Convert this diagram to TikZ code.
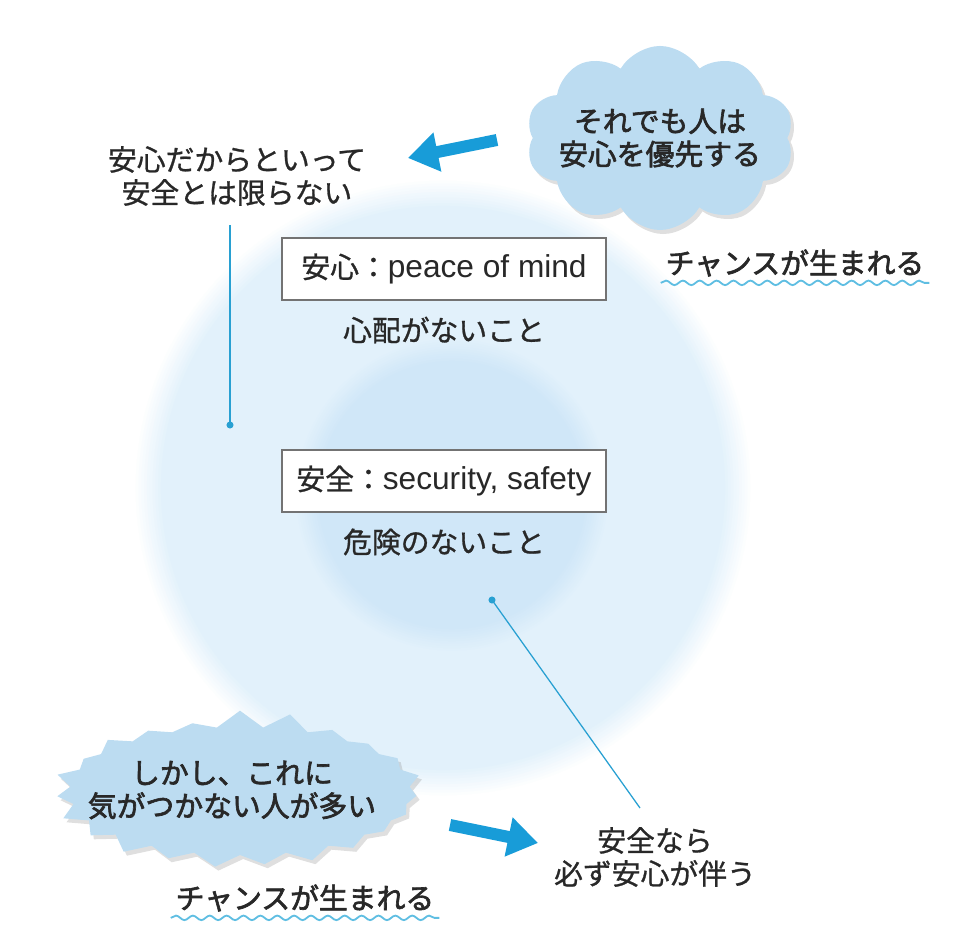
\documentclass[tikz,border=0pt]{standalone}
\usepackage{fontspec}
\setmainfont{Noto Sans CJK JP}[FakeBold=0.9]
\newfontfamily\heavyfont{Noto Sans CJK JP}[FakeBold=2.2]
\newfontfamily\latinfont{Liberation Sans}
\usetikzlibrary{arrows.meta, shapes.symbols, shadows, decorations.pathmorphing}
\definecolor{ringout}{RGB}{226,241,251}
\definecolor{ringin}{RGB}{208,231,248}
\definecolor{puff}{RGB}{188,220,241}
\definecolor{arrowblue}{RGB}{24,156,216}
\definecolor{leader}{RGB}{40,160,210}
\definecolor{wave}{RGB}{95,190,226}
\definecolor{boxgray}{RGB}{115,115,115}
\definecolor{ink}{RGB}{40,40,40}

\begin{document}
\begin{tikzpicture}[x=0.025cm, y=-0.025cm,
    txt/.style={align=center, font=\fontsize{20.5}{23.5}\selectfont, text=ink},
    strong/.style={txt, font=\fontsize{20.5}{23.5}\selectfont\heavyfont},
    term/.style={draw=boxgray, line width=2pt, fill=white, minimum width=8.1cm, minimum height=1.55cm, font=\fontsize{20.5}{23.5}\selectfont, text=ink},
    bubble/.style={cloud, cloud puffs=10, cloud puff arc=120, aspect=1.45, fill=puff, minimum width=6.7cm, minimum height=4.6cm, inner sep=0pt, drop shadow={shadow xshift=0.8mm, shadow yshift=-1mm, opacity=0.25}},
    burst/.style={starburst, starburst points=23, starburst point height=0.45cm, random starburst=7, fill=puff, minimum width=9.4cm, minimum height=4.1cm, inner sep=0pt, drop shadow={shadow xshift=0.8mm, shadow yshift=-1mm, opacity=0.25}},
    arr/.style={-{Triangle[length=7.5mm, width=9.5mm]}, line width=3mm, arrowblue},
    lead/.style={leader, line width=0.9pt},
    dot/.style={circle, fill=leader, inner sep=0pt, minimum size=5pt},
    wavy/.style={wave, line width=1.3pt, decorate, decoration={snake, amplitude=1.6pt, segment length=12pt}}
]
\useasboundingbox (0,0) rectangle (960,937);

\foreach \k [evaluate=\k as \p using int(\k*10), evaluate=\k as \r using 7.75-0.07*\k] in {0,...,10}
    \fill[ringout!\p!white] (443,488) circle [radius=\r cm];
\foreach \k [evaluate=\k as \p using int(\k*10), evaluate=\k as \r using 3.95-0.06*\k] in {0,...,10}
    \fill[ringin!\p!ringout] (452,495) circle [radius=\r cm];

\node[txt] (warn) at (237,176) {安心だからといって\\安全とは限らない};
\node[bubble] (prior) at (660,138) {};
\node[strong] (priortext) at (prior.center) {それでも人は\\安心を優先する};
\node[strong] (chance1) at (795,263) {チャンスが生まれる};
\node[term] (mind) at (444,269) {安心：{\latinfont\fontsize{22.5}{23.5}\selectfont peace of mind}};
\node[txt] (nowo) at (444,330) {心配がないこと};
\node[term] (safe) at (444,481) {安全：{\latinfont\fontsize{22.5}{23.5}\selectfont security, safety}};
\node[txt] (nodanger) at (444,542) {危険のないこと};
\node[burst] (alarm) at (240,791) {};
\node[strong] (alarmtext) at (232,790) {しかし、これに\\気がつかない人が多い};
\node[strong] (chance2) at (305,898) {チャンスが生まれる};
\node[txt] (follows) at (655,857) {安全なら\\必ず安心が伴う};

\node[dot] (p1) at (230,425) {};
\node[dot] (p2) at (492,600) {};
\coordinate (t1) at (230,225);
\coordinate (t2) at (640,808);
\draw[lead] (t1) -- (p1.center);
\draw[lead] (p2.center) -- (t2);

\coordinate (a1) at (497,140);
\coordinate (b1) at (408,158);
\coordinate (a2) at (450,825);
\coordinate (b2) at (538,843);
\draw[arr] (a1) -- (b1);
\draw[arr] (a2) -- (b2);

\draw[wavy] ([yshift=-1pt]chance1.south west) -- ([yshift=-1pt]chance1.south east);
\draw[wavy] ([yshift=-1pt]chance2.south west) -- ([yshift=-1pt]chance2.south east);
\end{tikzpicture}
\end{document}
